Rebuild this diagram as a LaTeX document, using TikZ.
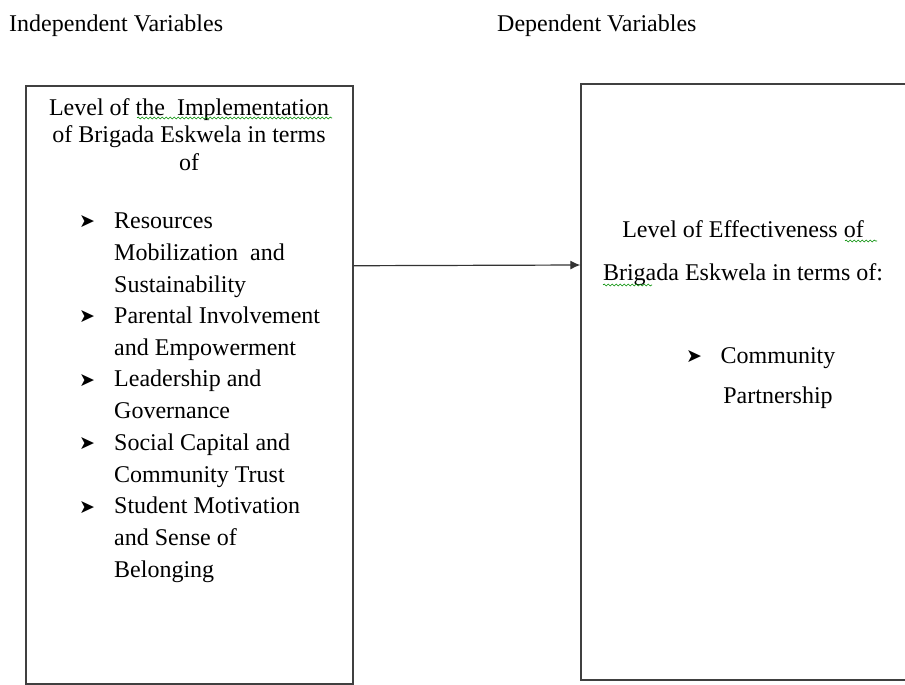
\documentclass[tikz,border=0pt]{standalone}
\usepackage{fontspec}
\setmainfont{Liberation Serif}
\newfontfamily\dingfont{DejaVu Sans}
\usetikzlibrary{arrows.meta,positioning,decorations.pathmorphing}
\tikzset{
  varbox/.style   = {draw=black!75, line width=1.3pt, rectangle, inner sep=0pt},
  varhead/.style  = {inner sep=0pt, anchor=base west, font=\fontsize{24}{29}\selectfont},
  boxtitle/.style = {inner sep=0pt, anchor=base, align=center},
  listitem/.style = {inner sep=0pt, anchor=base west, align=left, font=\fontsize{24}{31.7}\selectfont},
  arrowbullet/.style = {inner sep=0pt, anchor=base west, font=\dingfont\fontsize{19}{19}\selectfont},
  squiggle/.style = {draw=green!55!black, line width=0.6pt, decorate,
                     decoration={snake, segment length=4pt, amplitude=1pt}},
}

\begin{document}
\begin{tikzpicture}[x=1pt, y=-1pt]
      \useasboundingbox (0,0) rectangle (905,685);
      \clip (0,0) rectangle (905,685);

      %the two boxes
      \node[varbox, minimum width=327pt, minimum height=598pt] (indbox) at (189.5,385) {};
      \node[varbox, minimum width=359pt, minimum height=596pt] (depbox) at (760.5,382) {};

      \node[varhead] (indep) at (9,32) {Independent Variables};
      \node[varhead] (dep) at (497,32) {Dependent Variables};

      %left box (base = last line)
      \node[boxtitle, font=\fontsize{24}{27.5}\selectfont] (indtitle) at (189,170)
            {Level of the\ \ Implementation\\of Brigada Eskwela in terms\\of};

      \node[arrowbullet] (bul1) at (79,227) {➤};
      \node[listitem] (resources) at (114,292) {Resources\\Mobilization\ \ and\\Sustainability};
      \node[arrowbullet] (bul2) at (79,322) {➤};
      \node[listitem] (parental) at (114,355) {Parental Involvement\\and Empowerment};
      \node[arrowbullet] (bul3) at (79,386) {➤};
      \node[listitem] (leadership) at (114,418) {Leadership and\\Governance};
      \node[arrowbullet] (bul4) at (79,449) {➤};
      \node[listitem] (social) at (114,482) {Social Capital and\\Community Trust};
      \node[arrowbullet] (bul5) at (79,513) {➤};
      \node[listitem] (student) at (114,577) {Student Motivation\\and Sense of\\Belonging};

      %right box
      \node[boxtitle, font=\fontsize{24}{43}\selectfont] (deptitle) at (743,280)
            {Level of Effectiveness of\\Brigada Eskwela in terms of:};
      \node[arrowbullet] (bul6) at (686,362) {➤};
      \node[boxtitle, font=\fontsize{24}{40}\selectfont] (partner) at (778,403) {Community\\Partnership};

      %spell check marks
      \draw[squiggle] (137,118) -- (332,118);
      \draw[squiggle] (845,241) -- (877,241);
      \draw[squiggle] (603,285) -- (652,285);

      \draw[-{Latex[length=10pt,width=9pt]}, line width=1.2pt, black!80] (indbox.36.6) -- (depbox.147.6);

\end{tikzpicture}
\end{document}
